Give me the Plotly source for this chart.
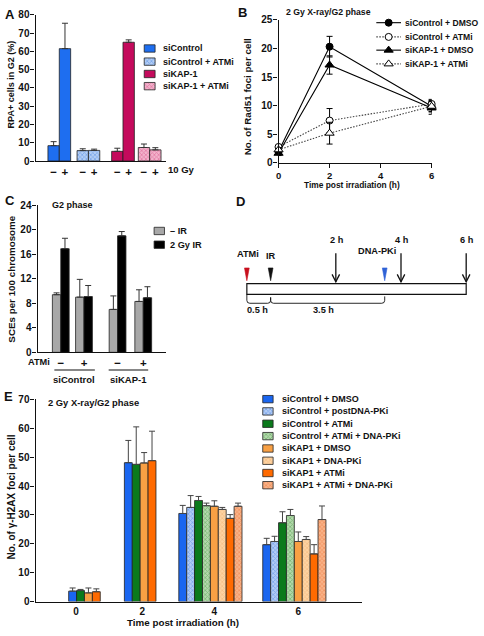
import plotly.graph_objects as go

W, H = 484, 636
FONT = "Liberation Sans, Arial, Helvetica, sans-serif"
INK = "#111111"

# ---------------- DATA ----------------
# Panel A: RPA+ cells in G2 (%), without (−) / with (+) 10 Gy
a_groups = ["siControl", "siControl + ATMi", "siKAP-1", "siKAP-1 + ATMi"]
a_dose_labels = ["−", "+"]
a_minus = [8.4, 5.7, 5.3, 7.4]
a_minus_err = [2.2, 1.0, 1.7, 1.9]
a_plus = [61.5, 5.8, 65.0, 6.1]
a_plus_err = [13.9, 0.7, 1.3, 1.2]

# Panel B: Rad51 foci per cell vs time
b_times = [0, 2, 6]
b_names = ["siControl + DMSO", "siControl + ATMi", "siKAP-1 + DMSO", "siKAP-1 + ATMi"]
b_ctrl_dmso = [2.0, 20.3, 9.9]
b_ctrl_dmso_err = [0.4, 1.8, 1.0]
b_ctrl_atmi = [2.8, 7.4, 10.3]
b_ctrl_atmi_err = [0.4, 2.1, 0.8]
b_kap_dmso = [1.7, 17.1, 9.6]
b_kap_dmso_err = [0.4, 1.6, 1.1]
b_kap_atmi = [2.3, 5.2, 9.9]
b_kap_atmi_err = [0.4, 1.9, 0.9]

# Panel C: SCEs per 100 chromosome
c_sirna = ["siControl", "siKAP-1"]
c_atmi_labels = ["−", "+", "−", "+"]
c_series = ["– IR", "2 Gy IR"]
c_no_ir = [9.4, 9.0, 7.0, 8.3]
c_no_ir_err = [0.3, 2.9, 2.2, 1.9]
c_ir = [16.9, 9.1, 19.0, 8.9]
c_ir_err = [1.7, 1.8, 0.7, 1.8]

# Panel D: timeline (hours relative to IR)
d_event_names = ["ATMi", "IR", "DNA-PKi"]
d_event_hours = [-0.73, 0.0, 3.5]
d_sample_hours = [2, 4, 6]
d_sample_labels = ["2 h", "4 h", "6 h"]
d_interval_labels = ["0.5 h", "3.5 h"]

# Panel E: gamma-H2AX foci per cell
e_times = ["0", "2", "4", "6"]
e_names = ["siControl + DMSO", "siControl + postDNA-PKi", "siControl + ATMi",
           "siControl + ATMi + DNA-PKi", "siKAP1 + DMSO", "siKAP1 + DNA-PKi",
           "siKAP1 + ATMi", "siKAP1 + ATMi + DNA-PKi"]
e_vals = [
    [3.6, 48.1, 30.5, 19.7],
    [None, None, 32.6, 20.8],
    [3.8, 47.5, 35.0, 27.3],
    [None, None, 33.2, 29.8],
    [3.0, 48.0, 33.0, 20.8],
    [None, None, 31.9, 21.5],
    [3.4, 48.8, 28.8, 16.5],
    [None, None, 33.0, 28.4],
]
e_errs = [
    [1.1, 7.7, 2.8, 2.2],
    [None, None, 4.1, 1.8],
    [0.4, 13.0, 1.4, 3.8],
    [None, None, 0.9, 2.1],
    [1.7, 3.6, 1.9, 3.3],
    [None, None, 0.7, 1.0],
    [1.0, 10.2, 1.3, 3.2],
    [None, None, 1.1, 4.7],
]

# ---------------- STYLES ----------------
def solid(c):
    return dict(color=c, line=dict(color="#222", width=0.8))

def hatched(bg, fg):
    return dict(color=bg, line=dict(color="#222", width=0.8),
                pattern=dict(shape="x", bgcolor=bg, fgcolor=fg, size=3, solidity=0.45))

a_styles = [solid("#1e6ef0"), hatched("#b3cdf4", "#3f7fe0"),
            solid("#c40a5c"), hatched("#f2b2cb", "#d4457f")]
c_styles = [solid("#a8a8a8"), solid("#000000")]
e_styles = [solid("#1a66f0"), hatched("#b3ccf4", "#4282e4"),
            solid("#0b7a1c"), hatched("#b3d8ac", "#449a40"),
            solid("#f8a044"), hatched("#fdd3a2", "#efad6e"),
            solid("#ff6a00"), hatched("#f8b287", "#ec7236")]

def px_x(p):
    return p / W

def px_y(p):
    return 1 - p / H

fig = go.Figure()

# ---------------- PANEL A ----------------
a_centers = [24.0, 53.5, 88.5, 115.5]   # group positions along the axis (px units)
a_w = 11.5
a_ticks, a_ticktext = [], []
for i, name in enumerate(a_groups):
    xs = [a_centers[i] - a_w / 2, a_centers[i] + a_w / 2]
    a_ticks += xs
    a_ticktext += a_dose_labels
    fig.add_trace(go.Bar(
        x=xs, y=[a_minus[i], a_plus[i]], width=a_w, name=name,
        marker=a_styles[i], xaxis="x", yaxis="y", showlegend=False,
        error_y=dict(type="data", array=[a_minus_err[i], a_plus_err[i]],
                     arrayminus=[0, 0], symmetric=False, color="#333",
                     thickness=1, width=3)))

# ---------------- PANEL B ----------------
DOT = "1.5px,1.5px"
b_specs = [
    (b_ctrl_dmso, b_ctrl_dmso_err, "circle", "#000", "solid", 7),
    (b_ctrl_atmi, b_ctrl_atmi_err, "circle", "#fff", DOT, 7),
    (b_kap_dmso, b_kap_dmso_err, "triangle-up", "#000", "solid", 8),
    (b_kap_atmi, b_kap_atmi_err, "triangle-up", "#fff", DOT, 8),
]
for name, (vals, errs, sym, fill, dash, size) in zip(b_names, b_specs):
    fig.add_trace(go.Scatter(
        x=b_times, y=vals, name=name, mode="lines+markers", cliponaxis=False,
        line=dict(color="#000" if dash == "solid" else "#444", width=1.1, dash=dash),
        marker=dict(symbol=sym, size=size, color=fill, line=dict(color="#000", width=1)),
        error_y=dict(type="data", array=errs, color="#000", thickness=1, width=3),
        xaxis="x2", yaxis="y2", showlegend=False))

# ---------------- PANEL C ----------------
c_centers = [23.5, 47.0, 81.0, 107.0]
c_w = 8.5
fig.add_trace(go.Bar(
    x=[c - c_w / 2 for c in c_centers], y=c_no_ir, width=c_w, name=c_series[0],
    marker=c_styles[0], xaxis="x3", yaxis="y3", showlegend=False,
    error_y=dict(type="data", array=c_no_ir_err, arrayminus=[0] * 4, symmetric=False,
                 color="#333", thickness=1, width=3)))
fig.add_trace(go.Bar(
    x=[c + c_w / 2 for c in c_centers], y=c_ir, width=c_w, name=c_series[1],
    marker=c_styles[1], xaxis="x3", yaxis="y3", showlegend=False,
    error_y=dict(type="data", array=c_ir_err, arrayminus=[0] * 4, symmetric=False,
                 color="#333", thickness=1, width=3)))

# ---------------- PANEL E ----------------
e_group_centers = [49.5, 105.9, 177.0, 262.0]
e_tick_pos = [41.0, 108.0, 181.0, 266.0]
e_w = 8.0
for j, name in enumerate(e_names):
    xs, ys, es = [], [], []
    for g in range(len(e_times)):
        if e_vals[j][g] is None:
            continue
        present = [k for k in range(len(e_names)) if e_vals[k][g] is not None]
        k = present.index(j)
        n = len(present)
        xs.append(e_group_centers[g] + (k - (n - 1) / 2) * e_w)
        ys.append(e_vals[j][g])
        es.append(e_errs[j][g])
    fig.add_trace(go.Bar(
        x=xs, y=ys, width=e_w, name=name, marker=e_styles[j],
        xaxis="x5", yaxis="y5", showlegend=False,
        error_y=dict(type="data", array=es, arrayminus=[0] * len(es), symmetric=False,
                     color="#444", thickness=1, width=3)))

# ---------------- LEGEND SWATCHES (overlay axis in px) ----------------
def swatch(x0, yc, marker, name, w=10, h=7):
    fig.add_trace(go.Bar(orientation="h", base=[x0], x=[w], y=[yc], width=[h],
                         marker=marker, name=name, xaxis="x6", yaxis="y6",
                         showlegend=False, hoverinfo="skip"))

annotations = []

def txt(x, y, s, size=9, xanchor="center", angle=0, color=INK):
    annotations.append(dict(x=x, y=y, xref="x6", yref="y6", text=s, showarrow=False,
                            xanchor=xanchor, yanchor="middle", textangle=angle,
                            font=dict(family=FONT, size=size, color=color, weight="bold")))

a_leg_rows = [43.3, 56.7, 69.3, 81.7]
for i, name in enumerate(a_groups):
    swatch(143, a_leg_rows[i], a_styles[i], name, w=11, h=7.5)
    txt(160, a_leg_rows[i], name, size=9, xanchor="left")

c_leg_rows = [229.3, 243.3]
for i, name in enumerate(c_series):
    swatch(153, c_leg_rows[i], c_styles[i], name, w=10.5, h=7.5)
    txt(167, c_leg_rows[i], name, size=9.2, xanchor="left")

e_leg_rows = [400.7, 413.2, 425.8, 438.4, 451.0, 463.5, 476.0, 488.4]
for j, name in enumerate(e_names):
    swatch(263, e_leg_rows[j], e_styles[j], name, w=10.5, h=7.5)
    txt(280, e_leg_rows[j], name, size=9, xanchor="left")

b_leg_rows = [17, 31.5, 45, 59]
for name, (vals, errs, sym, fill, dash, size), yr in zip(b_names, b_specs, b_leg_rows):
    fig.add_trace(go.Scatter(
        x=[378, 403], y=[yr, yr], mode="lines", xaxis="x6", yaxis="y6",
        line=dict(color="#000" if dash == "solid" else "#444", width=1.1, dash=dash),
        showlegend=False, hoverinfo="skip"))
    fig.add_trace(go.Scatter(
        x=[390.5], y=[yr], mode="markers", xaxis="x6", yaxis="y6",
        marker=dict(symbol=sym, size=size, color=fill, line=dict(color="#000", width=1)),
        showlegend=False, hoverinfo="skip"))
    txt(405, yr, name, size=8.6, xanchor="left")

# ---------------- TEXT ----------------
# panel letters
txt(7, 9, "A", size=13)
txt(243, 7, "B", size=13)
txt(7, 198, "C", size=13)
txt(240, 199, "D", size=13)
txt(6, 398, "E", size=13)

# Panel A
txt(9, 80, "RPA+ cells in G2 (%)", size=9, angle=-90)
txt(181, 167, "10 Gy", size=9.5)

# Panel B
txt(330, 6, "2 Gy X-ray/G2 phase", size=8.7)
txt(247, 92, "No. of Rad51 foci per cell", size=9.8, angle=-90)
txt(353, 182.5, "Time post irradiation (h)", size=8.4)

# Panel C
txt(70, 203, "G2 phase", size=9)
txt(9, 278, "SCEs per 100 chromosome", size=9.8, angle=-90)
txt(36, 363, "ATMi", size=9.2)
txt(72, 381, c_sirna[0], size=9.5)
txt(127, 381, c_sirna[1], size=9.5)

# Panel E
txt(92, 404, "2 Gy X-ray/G2 phase", size=9.4)
txt(9, 500, "No. of γ-H2AX foci per cell", size=10, angle=-90)
txt(182, 628, "Time post irradiation (h)", size=9.8)

shapes = []

def line(x0, y0, x1, y1, color=INK, width=1.1):
    shapes.append(dict(type="line", xref="x6", yref="y6", x0=x0, y0=y0, x1=x1, y1=y1,
                       line=dict(color=color, width=width)))

def path(p, color=INK, fill=None, width=1.1):
    d = dict(type="path", xref="x6", yref="y6", path=p, line=dict(color=color, width=width))
    if fill:
        d["fillcolor"] = fill
    shapes.append(d)

# Panel C group underlines
line(52, 371, 93, 371)
line(107, 371, 147, 371)

# ---------------- PANEL D (timeline) ----------------
def hx(h):
    return 271 + 33 * h

tl_x0, tl_x1 = hx(d_event_hours[0]), hx(d_sample_hours[-1])
shapes.append(dict(type="rect", xref="x6", yref="y6", x0=tl_x0, x1=tl_x1, y0=283, y1=294,
                   line=dict(color=INK, width=1.2)))
tri_colors = ["#c8101e", "#111111", "#2f62d6"]
tri_label_y = [253, 255, 250]
tri_label_dx = [1, 0, -8]
for name, h, col, ly, dx in zip(d_event_names, d_event_hours, tri_colors, tri_label_y, tri_label_dx):
    x = hx(h)
    path(f"M {x-2.4},267 L {x+2.4},267 L {x},280 Z", color=col, fill=col, width=0.6)
    txt(x + dx, ly, name, size=9.2)
for h, lab in zip(d_sample_hours, d_sample_labels):
    x = hx(h)
    line(x, 252, x, 281, width=1.3)
    path(f"M {x-3.8},273.5 L {x},281 L {x+3.8},273.5", width=1.3)
    txt(x + 1, 239, lab, size=9.2)
# braces
xa, xb, xc = hx(d_event_hours[0]), hx(d_event_hours[1]), hx(d_event_hours[2])
path(f"M {xa},294 L {xa},300 Q {xa},303 {xa+3},303 L {xb-3},303 Q {xb},303 {xb},300 L {xb},297", width=0.9)
path(f"M {xb},297 L {xb},300 Q {xb},303 {xb+3},303 L {xc-3},303 Q {xc},303 {xc},300 L {xc},296", width=0.9)
txt((xa + xb) / 2 - 1, 310, d_interval_labels[0], size=9.2)
txt((xb + xc) / 2 - 4, 310, d_interval_labels[1], size=9.2)

# ---------------- AXES ----------------
tickfont = dict(family=FONT, size=10, color=INK, weight="bold")
def yax(domain_px, rng, dtick):
    return dict(domain=[px_y(domain_px[0]), px_y(domain_px[1])], range=rng, dtick=dtick,
                showline=True, linecolor=INK, linewidth=1.2, ticks="outside", ticklen=4,
                tickwidth=1.2, tickcolor=INK, showgrid=False, zeroline=False,
                tickfont=tickfont, fixedrange=True, ticklabelstandoff=-1)

def xax(domain_px, rng, **kw):
    d = dict(domain=[px_x(domain_px[0]), px_x(domain_px[1])], range=rng,
             showline=True, linecolor=INK, linewidth=1.2, showgrid=False, zeroline=False,
             tickfont=tickfont, fixedrange=True)
    d.update(kw)
    return d

fig.update_layout(
    width=W, height=H, margin=dict(l=0, r=0, t=0, b=0),
    paper_bgcolor="white", plot_bgcolor="rgba(0,0,0,0)",
    font=dict(family=FONT, color=INK, weight="bold"),
    showlegend=False, barmode="overlay",
    xaxis=xax((33, 165), [0, 132], ticks="", tickmode="array", tickvals=a_ticks,
              ticktext=a_ticktext, tickfont=dict(family=FONT, size=11.5, color=INK, weight="bold")),
    yaxis=yax((158, 9), [0, 80], 10),
    xaxis2=xax((279, 434), [0, 6], ticks="outside", ticklen=4, tickwidth=1.2, tickcolor=INK,
               tickmode="array", tickvals=[0, 2, 4, 6], anchor="y2",
               tickfont=dict(family=FONT, size=9.5, color=INK, weight="bold")),
    yaxis2=yax((160, 14), [0, 25], 5),
    xaxis3=xax((35, 165), [0, 130], ticks="", tickmode="array",
               tickvals=c_centers, ticktext=c_atmi_labels, anchor="y3",
               tickfont=dict(family=FONT, size=11.5, color=INK, weight="bold")),
    yaxis3=yax((353, 203), [0, 24], 4),
    xaxis5=xax((33, 364), [0, 331], ticks="", tickmode="array",
               tickvals=e_tick_pos, ticktext=e_times, anchor="y5"),
    yaxis5=yax((607, 401), [0, 70], 10),
    xaxis6=dict(domain=[0, 1], range=[0, W], visible=False, fixedrange=True, anchor="y6"),
    yaxis6=dict(domain=[0, 1], range=[H, 0], visible=False, fixedrange=True, anchor="x6"),
    annotations=annotations, shapes=shapes,
)
fig.update_layout(yaxis2=dict(anchor="x2"), yaxis3=dict(anchor="x3"), yaxis5=dict(anchor="x5"))

fig.write_html(
    "out.html",
    config={"displayModeBar": False},
    post_script="document.body.style.margin='0';document.body.style.padding='0';"
                "document.body.style.overflow='hidden';",
)
